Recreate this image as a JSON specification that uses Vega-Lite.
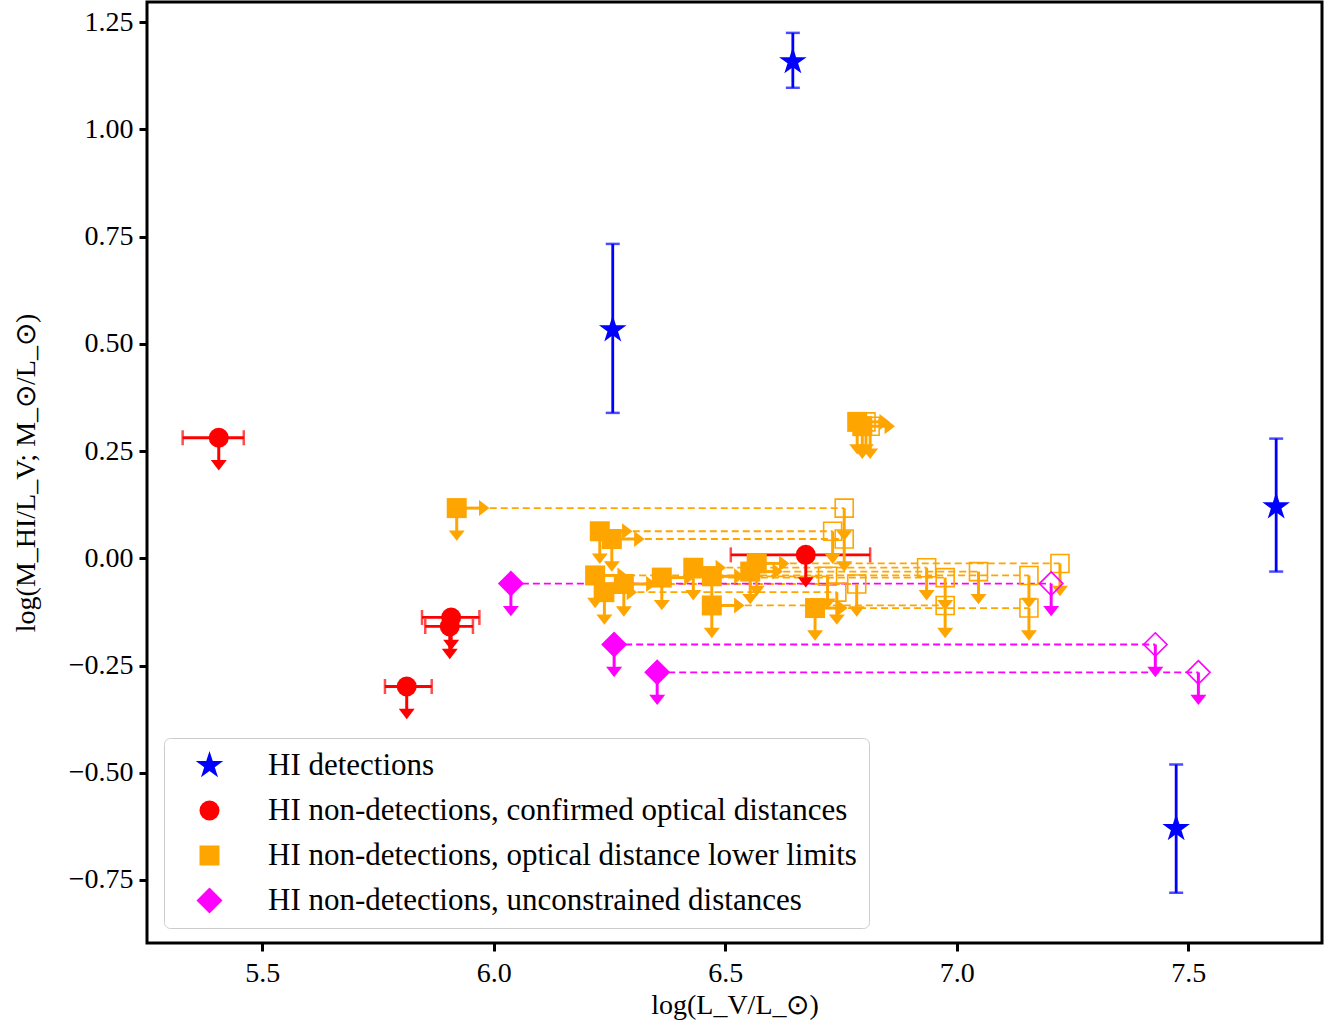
{
  "$schema": "https://vega.github.io/schema/vega-lite/v6.json",
  "width": 1175,
  "height": 941,
  "autosize": {"type": "none"},
  "padding": {"left": 147, "top": 2, "right": 16, "bottom": 87},
  "background": "white",
  "datasets": {
    "det": [
      {"cat": "HI detections", "x": 6.646, "y": 1.158, "ylo": 1.097, "yhi": 1.225},
      {"cat": "HI detections", "x": 6.257, "y": 0.533, "ylo": 0.339, "yhi": 0.733},
      {"cat": "HI detections", "x": 7.690, "y": 0.120, "ylo": -0.031, "yhi": 0.279},
      {"cat": "HI detections", "x": 7.474, "y": -0.630, "ylo": -0.780, "yhi": -0.481}
    ],
    "conf": [
      {"cat": "HI non-detections, confirmed optical distances", "x": 5.406, "y": 0.281, "xlo": 5.328, "xhi": 5.460},
      {"cat": "HI non-detections, confirmed optical distances", "x": 5.908, "y": -0.138, "xlo": 5.845, "xhi": 5.969},
      {"cat": "HI non-detections, confirmed optical distances", "x": 5.905, "y": -0.159, "xlo": 5.852, "xhi": 5.955},
      {"cat": "HI non-detections, confirmed optical distances", "x": 5.812, "y": -0.299, "xlo": 5.765, "xhi": 5.866},
      {"cat": "HI non-detections, confirmed optical distances", "x": 6.674, "y": 0.008, "xlo": 6.512, "xhi": 6.813}
    ],
    "pairs": [
      {"cat": "HI non-detections, optical distance lower limits", "x": 5.920, "xo": 6.757, "y": 0.117},
      {"cat": "HI non-detections, optical distance lower limits", "x": 6.229, "xo": 6.732, "y": 0.063},
      {"cat": "HI non-detections, optical distance lower limits", "x": 6.255, "xo": 6.757, "y": 0.045},
      {"cat": "HI non-detections, optical distance lower limits", "x": 6.568, "xo": 7.223, "y": -0.012},
      {"cat": "HI non-detections, optical distance lower limits", "x": 6.431, "xo": 6.935, "y": -0.022},
      {"cat": "HI non-detections, optical distance lower limits", "x": 6.554, "xo": 7.047, "y": -0.031},
      {"cat": "HI non-detections, optical distance lower limits", "x": 6.219, "xo": 7.156, "y": -0.040},
      {"cat": "HI non-detections, optical distance lower limits", "x": 6.471, "xo": 6.721, "y": -0.042},
      {"cat": "HI non-detections, optical distance lower limits", "x": 6.363, "xo": 6.975, "y": -0.045},
      {"cat": "HI non-detections, optical distance lower limits", "x": 6.281, "xo": 6.784, "y": -0.060},
      {"cat": "HI non-detections, optical distance lower limits", "x": 6.239, "xo": 6.741, "y": -0.079},
      {"cat": "HI non-detections, optical distance lower limits", "x": 6.471, "xo": 6.975, "y": -0.110},
      {"cat": "HI non-detections, optical distance lower limits", "x": 6.694, "xo": 7.156, "y": -0.116},
      {"cat": "HI non-detections, optical distance lower limits", "x": 6.785, "xo": 6.804, "y": 0.318},
      {"cat": "HI non-detections, optical distance lower limits", "x": 6.796, "xo": 6.813, "y": 0.308},
      {"cat": "HI non-detections, unconstrained distances", "x": 6.037, "xo": 7.204, "y": -0.059},
      {"cat": "HI non-detections, unconstrained distances", "x": 6.260, "xo": 7.429, "y": -0.201},
      {"cat": "HI non-detections, unconstrained distances", "x": 6.353, "xo": 7.522, "y": -0.266}
    ]
  },
  "encoding": {
    "x": {"field": "x", "type": "quantitative", "scale": {"domain": [5.251, 7.789], "nice": false, "zero": false},
      "axis": {"values": [5.5, 6.0, 6.5, 7.0, 7.5], "format": ".1f", "title": "log(L_V/L_⊙)", "labelPadding": 8, "titlePadding": 4}},
    "y": {"field": "y", "type": "quantitative", "scale": {"domain": [-0.897, 1.297], "nice": false, "zero": false},
      "axis": {"values": [-0.75, -0.5, -0.25, 0, 0.25, 0.5, 0.75, 1.0, 1.25], "format": ".2f", "title": "log(M_HI/L_V; M_⊙/L_⊙)", "labelPadding": 6, "titlePadding": 28}}
  },
  "layer": [
    {
      "data": {"name": "pairs"},
      "mark": {"type": "rule", "strokeDash": [7, 4], "strokeWidth": 1.8},
      "encoding": {
        "x2": {"field": "xo"},
        "stroke": {"field": "cat", "type": "nominal", "legend": null,
          "scale": {"domain": ["HI non-detections, unconstrained distances", "HI non-detections, optical distance lower limits", "HI non-detections, confirmed optical distances", "HI detections"],
            "range": ["#ff00ff", "#ffa500", "#ff0000", "#0000ff"]}}
      }
    },
    {
      "data": {"name": "det"},
      "mark": {"type": "rule", "color": "#0000ff", "strokeWidth": 2.8},
      "encoding": {"y": {"field": "ylo", "type": "quantitative"}, "y2": {"field": "yhi"}}
    },
    {
      "data": {"name": "det"},
      "mark": {"type": "tick", "orient": "horizontal", "color": "#0000ff", "size": 14, "thickness": 2.5},
      "encoding": {"y": {"field": "ylo", "type": "quantitative"}}
    },
    {
      "data": {"name": "det"},
      "mark": {"type": "tick", "orient": "horizontal", "color": "#0000ff", "size": 14, "thickness": 2.5},
      "encoding": {"y": {"field": "yhi", "type": "quantitative"}}
    },
    {
      "data": {"name": "conf"},
      "mark": {"type": "rule", "color": "#ff0000", "strokeWidth": 2.8},
      "encoding": {"x": {"field": "xlo", "type": "quantitative"}, "x2": {"field": "xhi"}}
    },
    {
      "data": {"name": "conf"},
      "mark": {"type": "tick", "orient": "vertical", "color": "#ff0000", "size": 15, "thickness": 2.5},
      "encoding": {"x": {"field": "xlo", "type": "quantitative"}}
    },
    {
      "data": {"name": "conf"},
      "mark": {"type": "tick", "orient": "vertical", "color": "#ff0000", "size": 15, "thickness": 2.5},
      "encoding": {"x": {"field": "xhi", "type": "quantitative"}}
    },
    {
      "data": {"name": "conf"},
      "mark": {"type": "rule", "strokeWidth": 3, "y2Offset": 23},
      "encoding": {"y2": {"field": "y"}, "stroke": {"field": "cat", "type": "nominal", "legend": null}}
    },
    {
      "data": {"name": "conf"},
      "mark": {"type": "point", "shape": "M-1,-0.65L1,-0.65L0,0.65Z", "size": 256, "filled": true, "opacity": 1, "yOffset": 27.5, "strokeWidth": 0},
      "encoding": {"fill": {"field": "cat", "type": "nominal", "legend": null,
          "scale": {"domain": ["HI non-detections, unconstrained distances", "HI non-detections, optical distance lower limits", "HI non-detections, confirmed optical distances", "HI detections"],
            "range": ["#ff00ff", "#ffa500", "#ff0000", "#0000ff"]}}}
    },
    {
      "data": {"name": "pairs"},
      "mark": {"type": "rule", "strokeWidth": 3, "y2Offset": 23},
      "encoding": {"y2": {"field": "y"}, "stroke": {"field": "cat", "type": "nominal", "legend": null}}
    },
    {
      "data": {"name": "pairs"},
      "mark": {"type": "point", "shape": "M-1,-0.65L1,-0.65L0,0.65Z", "size": 256, "filled": true, "opacity": 1, "yOffset": 27.5, "strokeWidth": 0},
      "encoding": {"fill": {"field": "cat", "type": "nominal", "legend": null}}
    },
    {
      "data": {"name": "pairs"},
      "mark": {"type": "rule", "strokeWidth": 3, "y2Offset": 23},
      "encoding": {"x": {"field": "xo", "type": "quantitative"}, "y2": {"field": "y"}, "stroke": {"field": "cat", "type": "nominal", "legend": null}}
    },
    {
      "data": {"name": "pairs"},
      "mark": {"type": "point", "shape": "M-1,-0.65L1,-0.65L0,0.65Z", "size": 256, "filled": true, "opacity": 1, "yOffset": 27.5, "strokeWidth": 0},
      "encoding": {"x": {"field": "xo", "type": "quantitative"}, "fill": {"field": "cat", "type": "nominal", "legend": null}}
    },
    {
      "data": {"name": "pairs"},
      "transform": [{"filter": "datum.cat == 'HI non-detections, optical distance lower limits'"}],
      "mark": {"type": "rule", "strokeWidth": 3, "x2Offset": 23},
      "encoding": {"x2": {"field": "x"}, "stroke": {"field": "cat", "type": "nominal", "legend": null}}
    },
    {
      "data": {"name": "pairs"},
      "transform": [{"filter": "datum.cat == 'HI non-detections, optical distance lower limits'"}],
      "mark": {"type": "point", "shape": "M-0.65,-1L-0.65,1L0.65,0Z", "size": 256, "filled": true, "opacity": 1, "xOffset": 27.5, "strokeWidth": 0},
      "encoding": {"fill": {"field": "cat", "type": "nominal", "legend": null}}
    },
    {
      "data": {"name": "pairs"},
      "transform": [{"filter": "datum.cat == 'HI non-detections, optical distance lower limits'"}],
      "mark": {"type": "point", "shape": "square", "filled": false, "size": 324, "strokeWidth": 1.6, "opacity": 1},
      "encoding": {
        "x": {"field": "xo", "type": "quantitative"},
        "stroke": {"field": "cat", "type": "nominal", "legend": null}
      }
    },
    {
      "data": {"name": "pairs"},
      "transform": [{"filter": "datum.cat == 'HI non-detections, unconstrained distances'"}],
      "mark": {"type": "point", "shape": "M0,-1.3L1.3,0L0,1.3L-1.3,0Z", "filled": false, "size": 324, "strokeWidth": 1.6, "opacity": 1},
      "encoding": {
        "x": {"field": "xo", "type": "quantitative"},
        "stroke": {"field": "cat", "type": "nominal", "legend": null}
      }
    },
    {
      "data": {"name": "det"},
      "mark": {"type": "point", "filled": true, "size": 400, "opacity": 1},
      "encoding": {
        "color": {"field": "cat", "type": "nominal",
          "scale": {"domain": ["HI detections", "HI non-detections, confirmed optical distances", "HI non-detections, optical distance lower limits", "HI non-detections, unconstrained distances"],
            "range": ["#0000ff", "#ff0000", "#ffa500", "#ff00ff"]},
          "legend": {"title": null, "orient": "none", "legendX": 17, "legendY": 736}},
        "shape": {"field": "cat", "type": "nominal",
          "scale": {"domain": ["HI detections", "HI non-detections, confirmed optical distances", "HI non-detections, optical distance lower limits", "HI non-detections, unconstrained distances"],
            "range": ["M0,-1.45L0.326,-0.448L1.379,-0.448L0.527,0.171L0.852,1.173L0,0.554L-0.852,1.173L-0.527,0.171L-1.379,-0.448L-0.326,-0.448Z", "circle", "square", "M0,-1.3L1.3,0L0,1.3L-1.3,0Z"]},
          "legend": {"title": null, "orient": "none", "legendX": 17, "legendY": 736}}
      }
    },
    {
      "data": {"name": "conf"},
      "mark": {"type": "point", "filled": true, "size": 400, "opacity": 1},
      "encoding": {
        "color": {"field": "cat", "type": "nominal"},
        "shape": {"field": "cat", "type": "nominal"}
      }
    },
    {
      "data": {"name": "pairs"},
      "mark": {"type": "point", "filled": true, "size": 400, "opacity": 1},
      "encoding": {
        "color": {"field": "cat", "type": "nominal"},
        "shape": {"field": "cat", "type": "nominal"}
      }
    }
  ],
  "config": {
    "font": "Liberation Serif",
    "view": {"stroke": "black", "strokeWidth": 3},
    "axis": {"domain": false, "grid": false, "tickColor": "black", "tickWidth": 3, "tickSize": 8,
      "labelFont": "Liberation Serif", "labelFontSize": 28, "labelColor": "black",
      "titleFont": "Liberation Serif", "titleFontSize": 28, "titleFontWeight": "normal", "titleColor": "black"},
    "legend": {"padding": 12, "fillColor": "white", "strokeColor": "#cccccc",
      "cornerRadius": 6, "labelFont": "Liberation Serif", "labelFontSize": 31, "labelColor": "black", "symbolSize": 400,
      "rowPadding": 13, "symbolOffset": 18, "labelOffset": 43, "symbolStrokeWidth": 0, "labelLimit": 800}
  }
}
